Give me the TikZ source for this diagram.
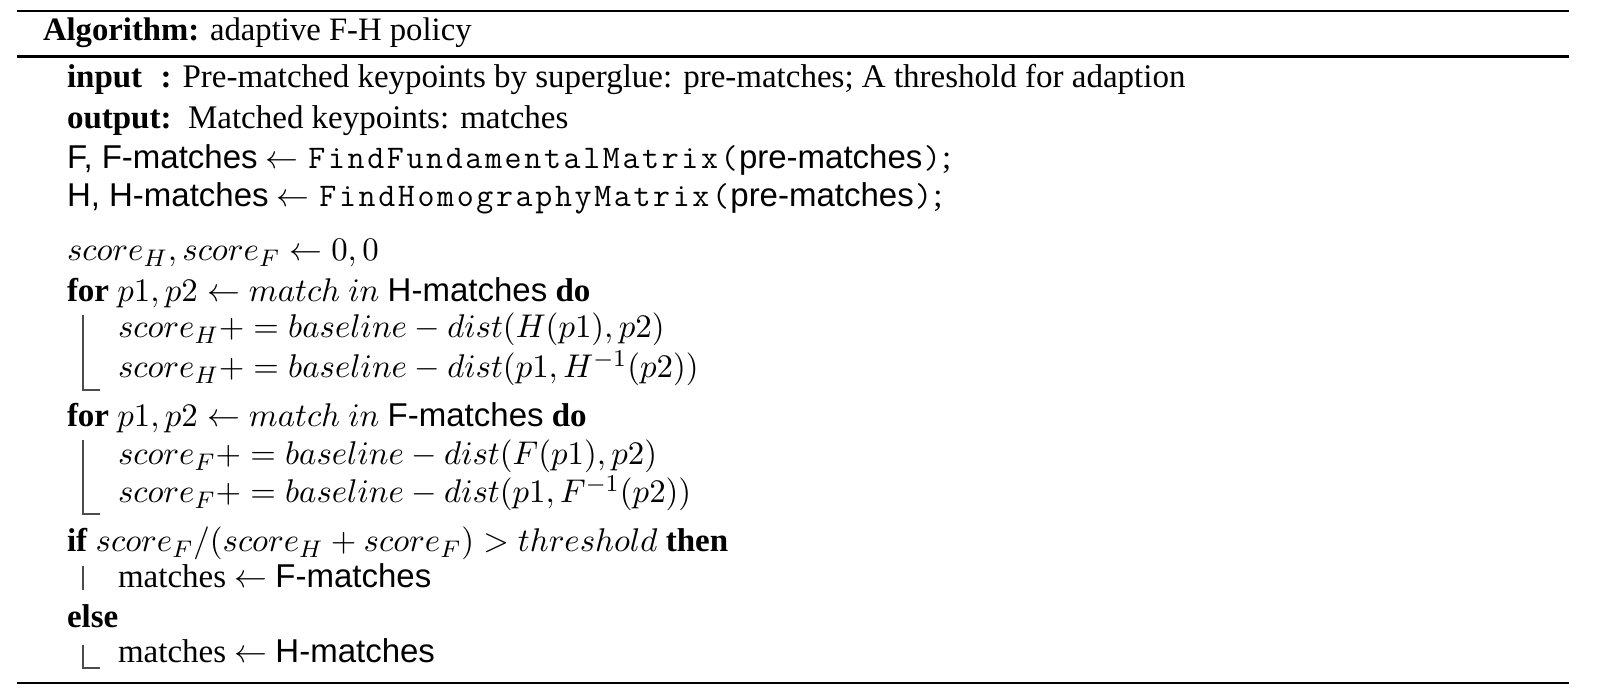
\documentclass[tikz,border=0pt]{standalone}
\usepackage[no-math]{fontspec}
\setmainfont{Liberation Serif}
\setsansfont{Liberation Sans}
\makeatletter
\newcommand\courtt[1]{{\ttfamily\@tfor\cc:=#1\do{\makebox[0.595em]{\cc}}}}
\makeatother
\begin{document}
\begin{tikzpicture}[x=0.33333pt,y=-0.33333pt,
  txt/.style={anchor=base west,inner sep=0pt,outer sep=0pt,font=\fontsize{11}{13}\selectfont},
  mathtxt/.style={txt,font=\fontsize{11.25}{13}\selectfont},
  toprule/.style={line width=0.9pt,black},
  bar/.style={line width=0.45pt,black!70}]
\useasboundingbox (0,0) rectangle (1600,698);
% rules
\coordinate (r1a) at (17,11);   \coordinate (r1b) at (1569,11);
\coordinate (r2a) at (17,56.5); \coordinate (r2b) at (1569,56.5);
\coordinate (r3a) at (17,683);  \coordinate (r3b) at (1569,683);
\draw[toprule] (r1a) -- (r1b);
\draw[toprule] (r2a) -- (r2b);
\draw[toprule] (r3a) -- (r3b);
% text
\node[txt,font=\fontsize{10.9}{13}\selectfont] (title) at (43,41) {\textbf{Algorithm:} adaptive F-H policy};
\node[txt] (input) at (67,88) {{\setbox0\hbox{\textbf{output}}\makebox[\wd0][l]{\textbf{input}}}\textbf{:} Pre-matched keypoints by superglue: pre-matches; A threshold for adaption};
\node[txt] (output) at (67,129) {\textbf{output:}\ \ Matched keypoints: matches};
\node[txt] (fline) at (67,169) {\textsf{F, F-matches} $\leftarrow$ \courtt{FindFundamentalMatrix(}\textsf{pre-matches}\courtt{)};};
\node[txt] (hline) at (67,207) {\textsf{H, H-matches} $\leftarrow$ \courtt{FindHomographyMatrix(}\textsf{pre-matches}\courtt{)};};
\node[mathtxt] (init) at (67,261) {$score_H, score_F \leftarrow 0,0$};
\node[txt] (forH) at (67,302) {\textbf{for} $p1,p2 \leftarrow match\ in$ \textsf{H-matches} \textbf{do}};
\node[mathtxt] (sH1) at (118,338) {$score_H+=baseline-dist(H(p1),p2)$};
\node[mathtxt] (sH2) at (118,378) {$score_H+=baseline-dist(p1,H^{-1}(p2))$};
\node[txt] (forF) at (67,427) {\textbf{for} $p1,p2 \leftarrow match\ in$ \textsf{F-matches} \textbf{do}};
\node[mathtxt] (sF1) at (118,465) {$score_F+=baseline-dist(F(p1),p2)$};
\node[mathtxt] (sF2) at (118,503) {$score_F+=baseline-dist(p1,F^{-1}(p2))$};
\node[txt] (ifl) at (67,552) {\textbf{if} $score_F/(score_H+score_F)>threshold$ \textbf{then}};
\node[txt] (mF) at (118,588) {matches $\leftarrow$ \textsf{F-matches}};
\node[txt] (elsel) at (67,627) {\textbf{else}};
\node[txt] (mH) at (118,662) {matches $\leftarrow$ \textsf{H-matches}};
% block bars
\coordinate (hb1) at (83,315); \coordinate (hb2) at (83,390); \coordinate (hb3) at (100,390);
\draw[bar] (hb1) -- (hb2) -- (hb3);
\coordinate (fb1) at (83,440); \coordinate (fb2) at (83,514); \coordinate (fb3) at (100,514);
\draw[bar] (fb1) -- (fb2) -- (fb3);
\coordinate (ib1) at (83,566); \coordinate (ib2) at (83,590);
\draw[bar] (ib1) -- (ib2);
\coordinate (eb1) at (83,645); \coordinate (eb2) at (83,668); \coordinate (eb3) at (100,668);
\draw[bar] (eb1) -- (eb2) -- (eb3);
\end{tikzpicture}
\end{document}
